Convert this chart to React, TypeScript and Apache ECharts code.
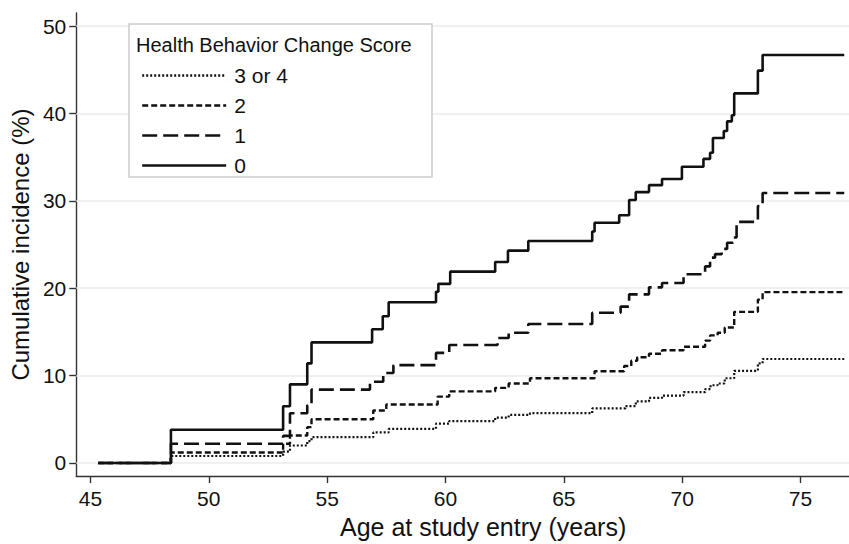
import React, { useEffect, useRef } from "react";
import * as echarts from "echarts";

// Age at study entry (years) where each step begins, and cumulative incidence (%)
const ages34 = [45.33, 48.4, 53.14, 53.43, 54.16, 54.34, 56.95, 57.6, 59.6, 60.16, 62.1, 62.67, 63.57, 66.2, 67.6, 68.04, 68.6, 69.15, 70.06, 70.97, 71.2, 71.5, 71.8, 72.2, 73.2, 73.4, 76.85];
const inc34 = [0, 0.8, 1.3, 2.0, 2.5, 2.95, 3.5, 3.9, 4.5, 4.8, 5.2, 5.5, 5.7, 6.25, 6.5, 7.05, 7.45, 7.7, 8.1, 8.45, 8.9, 9.1, 9.7, 10.55, 11.4, 11.9, 11.9];

const ages2 = [45.33, 48.4, 53.14, 53.43, 54.16, 54.34, 56.95, 57.5, 59.67, 60.16, 62.1, 62.67, 63.57, 66.3, 67.55, 67.85, 68.1, 68.6, 69.15, 70.06, 70.97, 71.18, 71.5, 71.8, 72.2, 73.2, 73.4, 76.85];
const inc2 = [0, 1.2, 2.2, 3.15, 4.1, 5.0, 6.0, 6.7, 7.6, 8.2, 8.6, 9.1, 9.7, 10.5, 11.1, 11.7, 12.1, 12.5, 12.9, 13.3, 14.0, 14.6, 14.9, 15.5, 17.3, 18.7, 19.55, 19.55];

const ages1 = [45.33, 48.4, 53.14, 53.43, 54.16, 54.34, 56.81, 57.37, 57.8, 59.6, 60.16, 62.2, 62.67, 63.5, 66.2, 67.4, 67.76, 68.6, 69.15, 70.06, 70.97, 71.18, 71.39, 71.67, 71.9, 72.15, 72.3, 73.2, 73.4, 76.85];
const inc1 = [0, 2.2, 3.1, 5.7, 6.6, 8.4, 9.3, 10.3, 11.2, 12.6, 13.5, 14.3, 14.9, 15.9, 17.2, 17.9, 19.3, 20.1, 20.6, 21.6, 22.5, 23.5, 23.9, 24.5, 25.2, 25.8, 27.6, 29.4, 30.9, 30.9];

const ages0 = [45.33, 48.4, 53.14, 53.43, 54.16, 54.34, 56.9, 57.35, 57.6, 59.6, 59.7, 60.2, 62.1, 62.64, 63.5, 66.2, 66.3, 67.34, 67.76, 68.04, 68.6, 69.15, 69.99, 70.9, 71.18, 71.3, 71.76, 71.9, 72.1, 72.2, 73.2, 73.4, 76.85];
const inc0 = [0, 3.8, 6.5, 9.0, 11.4, 13.8, 15.3, 16.8, 18.4, 19.6, 20.5, 21.9, 23.0, 24.3, 25.4, 26.5, 27.5, 28.35, 30.1, 31.0, 31.8, 32.5, 33.9, 34.8, 35.5, 37.2, 38.0, 39.1, 39.8, 42.3, 44.9, 46.7, 46.7];

const xTicks = [45, 50, 55, 60, 65, 70, 75];
const yTicks = [0, 10, 20, 30, 40, 50];
const seriesNames = ["3 or 4", "2", "1", "0"];
const legendTitle = "Health Behavior Change Score";

const zip = (xs: number[], ys: number[]) => xs.map((x, i) => [x, ys[i]]);

const FONT = "'Liberation Sans', Arial, Helvetica, sans-serif";
const INK = "#111111";

export default function App() {
  const ref = useRef<HTMLDivElement>(null);
  useEffect(() => {
    if (!ref.current) return;
    const chart = echarts.init(ref.current, null, { renderer: "svg" });
    const lineSeries = (name: string, data: number[][], width: number, type: any) => ({
      name,
      type: "line",
      step: "end",
      data,
      symbol: "none",
      z: 3,
      lineStyle: { color: INK, width, type, cap: "butt" },
      itemStyle: { color: INK, opacity: 0 },
    });
    chart.setOption({
      animation: false,
      backgroundColor: "#ffffff",
      textStyle: { fontFamily: FONT, color: INK },
      grid: { left: 68.3, right: 0, top: 13, bottom: 59 },
      xAxis: {
        type: "value",
        min: 44.4,
        max: 77.05,
        name: "Age at study entry (years)",
        nameLocation: "middle",
        nameGap: 26,
        nameTextStyle: { fontSize: 25, color: INK, fontFamily: FONT, padding: [0, 0, 0, 41] },
        axisLine: { show: true, onZero: false, lineStyle: { color: "#333333", width: 1.4 } },
        axisTick: { show: true, length: 7, customValues: xTicks, lineStyle: { color: "#333333", width: 1.4 } },
        axisLabel: { customValues: xTicks, fontSize: 21, color: INK, margin: 12, fontFamily: FONT },
        splitLine: { show: false },
      },
      yAxis: {
        type: "value",
        min: -1.5,
        max: 51.5,
        name: "Cumulative incidence (%)",
        nameLocation: "middle",
        nameGap: 36,
        nameTextStyle: { fontSize: 24, color: INK, fontFamily: FONT },
        axisLine: { show: true, onZero: false, lineStyle: { color: "#333333", width: 1.4 } },
        axisTick: { show: true, length: 7, customValues: yTicks, lineStyle: { color: "#333333", width: 1.4 } },
        axisLabel: { customValues: yTicks, fontSize: 21, color: INK, margin: 10, fontFamily: FONT },
        splitLine: { show: false },
      },
      legend: {
        data: seriesNames,
        orient: "vertical",
        left: 136,
        top: 60,
        itemWidth: 84,
        itemHeight: 20,
        itemGap: 9,
        z: 6,
        itemStyle: { opacity: 0, borderWidth: 0 },
        lineStyle: { width: 2.4 },
        textStyle: { fontSize: 21, color: INK, fontFamily: FONT, lineHeight: 20, padding: [0, 0, 0, 3] },
      },
      graphic: [
        {
          type: "rect",
          z: 5,
          shape: { x: 129, y: 24, width: 303, height: 153 },
          style: { fill: "#ffffff", stroke: "#cccccc", lineWidth: 1.5 },
        },
        {
          type: "text",
          z: 6,
          x: 136,
          y: 45,
          style: { text: legendTitle, fontSize: 20, fontFamily: FONT, fill: INK, verticalAlign: "middle" },
        },
      ],
      series: [
        {
          name: "grid",
          type: "line",
          data: [],
          z: 1,
          markLine: {
            silent: true,
            z: 1,
            symbol: "none",
            label: { show: false },
            lineStyle: { color: "#ebebeb", width: 1.5, type: "solid" },
            data: yTicks.map((v) => ({ yAxis: v })),
          },
        },
        lineSeries("3 or 4", zip(ages34, inc34), 2.2, [2, 2]),
        lineSeries("2", zip(ages2, inc2), 2.4, [6, 3]),
        lineSeries("1", zip(ages1, inc1), 2.6, [15, 6]),
        lineSeries("0", zip(ages0, inc0), 2.6, "solid"),
      ],
    });
    return () => chart.dispose();
  }, []);
  return (
    <div
      ref={ref}
      style={{ position: "absolute", left: 0, top: 0, width: 849, height: 544, background: "#fff" }}
    />
  );
}
